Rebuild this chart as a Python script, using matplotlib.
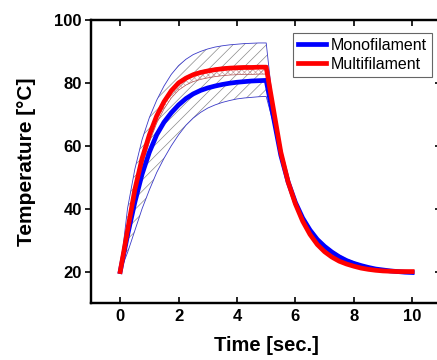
import matplotlib
matplotlib.use("Agg")
import matplotlib.pyplot as plt
import numpy as np

time = [0, 0.25, 0.5, 0.75, 1.0, 1.25, 1.5, 1.75, 2.0, 2.25, 2.5, 2.75, 3.0, 3.25, 3.5, 3.75, 4.0,
        4.25, 4.5, 4.75, 5.0, 5.25, 5.5, 5.75, 6.0, 6.25, 6.5, 6.75, 7.0, 7.25, 7.5, 7.75, 8.0,
        8.25, 8.5, 8.75, 9.0, 9.25, 9.5, 9.75, 10.0]

mono = [20, 31.5, 42, 51, 58, 63.5, 67.5, 70.5, 73, 75, 76.5, 77.6, 78.4, 79.0, 79.5,
        79.9, 80.2, 80.4, 80.6, 80.7, 80.8,
        69, 57, 48.5, 42, 37, 33.2, 30.2, 28, 26.2, 24.7, 23.5, 22.6, 21.9, 21.3, 20.8, 20.5,
        20.2, 20.0, 19.8, 19.7]
mono_upper = [20, 40, 52.5, 62, 69, 74.5, 79, 82.7, 85.5, 87.5, 89, 90, 90.8, 91.4, 91.8,
              92.1, 92.3, 92.5, 92.6, 92.7, 92.7,
              71.5, 58, 49.3, 42.8, 37.7, 33.9, 30.8, 28.5, 26.7, 25.2, 24.0, 23.1, 22.3, 21.7,
              21.1, 20.6, 20.3, 20.1, 20.0, 19.8]
mono_lower = [20, 26, 33, 40, 46, 51.5, 56, 60, 63.5, 66.5, 68.8, 70.6, 72, 73, 73.8, 74.4,
              74.9, 75.2, 75.4, 75.6, 75.7,
              67, 56, 47.8, 41.2, 36.3, 32.5, 29.6, 27.5, 25.7, 24.3, 23.1, 22.2, 21.5, 20.9,
              20.4, 20.1, 19.9, 19.8, 19.7, 19.5]

multi = [20, 33, 46, 56, 63.5, 69.5, 74, 77.5, 80, 81.5, 82.6, 83.3, 83.8, 84.2, 84.5,
         84.7, 84.8, 84.9, 84.9, 85.0, 85.0,
         71.5, 58, 48.5, 41.5, 36, 31.8, 28.6, 26.3, 24.6, 23.3, 22.4, 21.7, 21.1, 20.7, 20.4,
         20.2, 20.1, 20.0, 20.0, 20.0]
multi_upper = [20, 34, 47.2, 57.1, 64.5, 70.3, 74.7, 78.1, 80.5, 82.0, 83.1, 83.8, 84.3, 84.7,
               85.0, 85.2, 85.3, 85.4, 85.4, 85.5, 85.5,
               72.3, 58.6, 49.0, 41.9, 36.3, 32.0, 28.8, 26.5, 24.8, 23.5, 22.5, 21.8, 21.2,
               20.8, 20.5, 20.3, 20.2, 20.1, 20.1, 20.1]
multi_lower = [20, 31.5, 44.0, 53.8, 61.2, 67.2, 71.7, 75.2, 77.7, 79.3, 80.4, 81.1, 81.6, 82.0,
               82.3, 82.5, 82.6, 82.7, 82.7, 82.8, 82.8,
               70.5, 57.2, 47.9, 41.0, 35.6, 31.5, 28.3, 26.1, 24.4, 23.1, 22.2, 21.5, 21.0,
               20.6, 20.3, 20.1, 20.0, 19.9, 19.9, 19.9]

x_ticks = [0, 2, 4, 6, 8, 10]
y_ticks = [20, 40, 60, 80, 100]

plt.rcParams['hatch.linewidth'] = 0.5
plt.rcParams['font.family'] = ['Liberation Sans', 'DejaVu Sans']

fig = plt.figure(figsize=(4.37, 3.6), dpi=100)
ax = fig.add_axes([91/437, 1-303/360, 350.4/437, 283/360])

ax.fill_between(time, mono_lower, mono_upper, facecolor='none', edgecolor='#8a8a8a',
                hatch='///', linewidth=0)
ax.plot(time, mono_upper, color='#3a3ac8', lw=0.6)
ax.plot(time, mono_lower, color='#3a3ac8', lw=0.6)
ax.fill_between(time, multi_lower, multi_upper, facecolor='none', edgecolor='#c8a0a0',
                hatch='xxxxxx', linewidth=0)
ax.plot(time, multi_lower, color='#b05050', lw=0.5)
ax.plot(time, multi_upper, color='#b05050', lw=0.5)

ax.plot(time, mono, color='#0000ff', lw=3.4, label='Monofilament', solid_joinstyle='round')
ax.plot(time, multi, color='#ff0000', lw=3.4, label='Multifilament', solid_joinstyle='round')

ax.set_xlim(-1, 11)
ax.set_ylim(10, 100)
ax.set_xticks(x_ticks)
ax.set_yticks(y_ticks)
ax.set_xticklabels([str(v) for v in x_ticks], fontsize=12, fontweight='bold')
ax.set_yticklabels([str(v) for v in y_ticks], fontsize=12, fontweight='bold')
ax.tick_params(axis='x', direction='in', top=True, length=4.5, width=1.2, pad=4)
ax.tick_params(axis='y', direction='out', length=4.5, width=1.2, pad=2)
ax2 = ax.twinx()
ax2.set_ylim(10, 100)
ax2.set_yticks(y_ticks)
ax2.set_yticklabels([])
ax2.tick_params(axis='y', direction='in', length=4.5, width=1.2)
for a in (ax, ax2):
    for s in a.spines.values():
        s.set_linewidth(1.6)

ax.set_xlabel('Time [sec.]', fontsize=14.5, fontweight='bold', labelpad=9)
ax.set_ylabel('Temperature [°C]', fontsize=15, fontweight='bold', labelpad=13)

leg = ax.legend(loc='upper right', bbox_to_anchor=(432/437, 1-33/360),
                bbox_transform=fig.transFigure, fontsize=11.5, frameon=True, fancybox=False,
                handlelength=1.8, handletextpad=0.3, borderpad=0.3, labelspacing=0.25,
                borderaxespad=0)
leg.get_frame().set_edgecolor('#404040')
leg.get_frame().set_linewidth(0.8)

fig.savefig('out.png', dpi=100)
